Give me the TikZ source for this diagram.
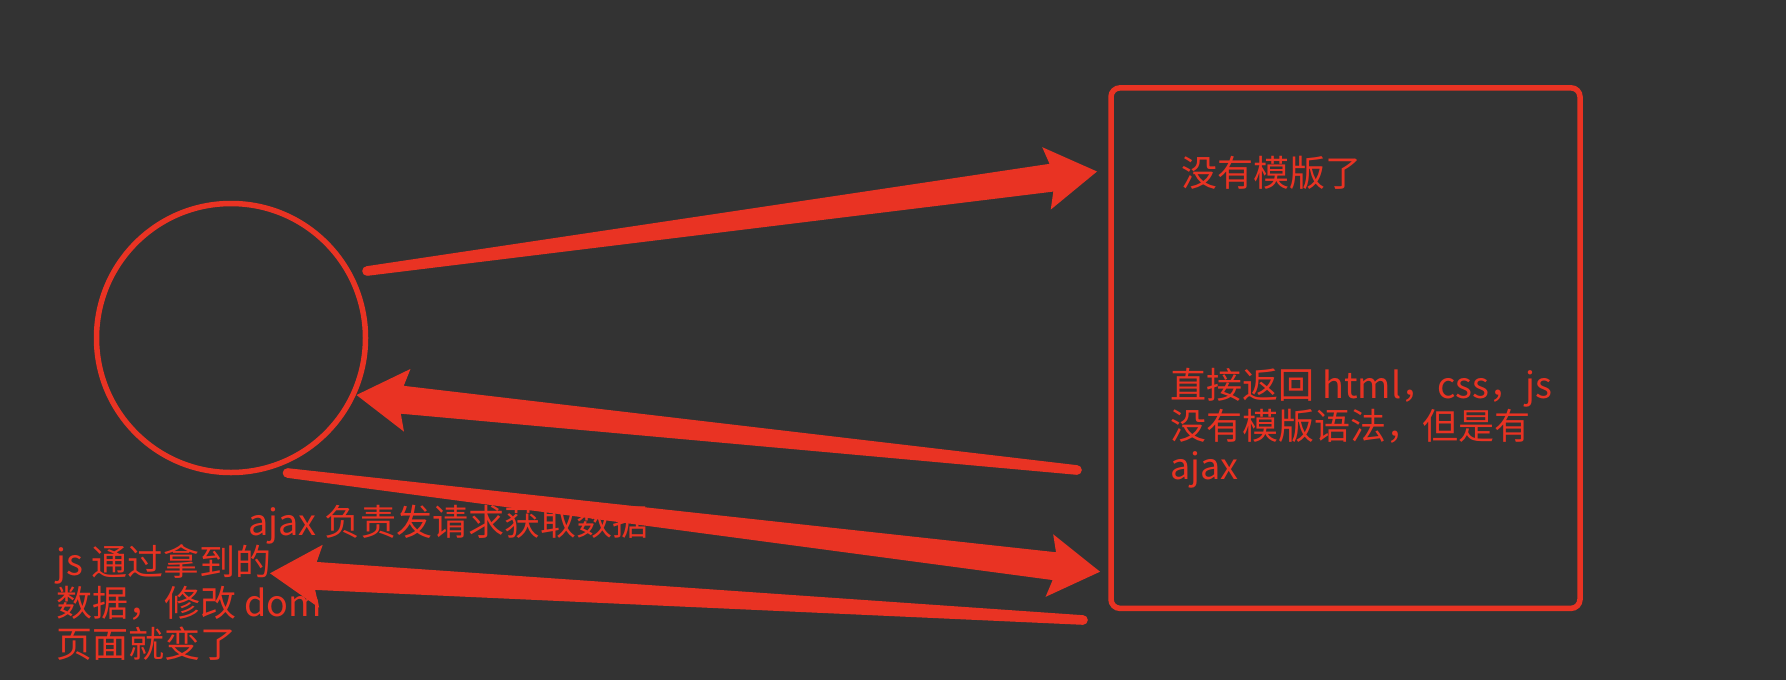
\documentclass[tikz,border=0pt]{standalone}
\usepackage{fontspec}
\setmainfont{Noto Sans CJK SC}
\usetikzlibrary{calc}
\definecolor{redc}{HTML}{E93323}
\definecolor{bgc}{HTML}{333333}
% tapered arrow from tail #1 to tip #2
\newcommand\fatarrow[2]{%
  \fill[redc] (#1) circle[radius=2.4pt];
  \fill[redc] ($(#1)!2.4pt!90:(#2)$)
    -- ($(#2)!23pt!(#1)!7pt!-90:(#1)$)
    -- ($(#2)!25.5pt!(#1)!15.75pt!-90:(#1)$)
    -- (#2)
    -- ($(#2)!25.5pt!(#1)!15.75pt!90:(#1)$)
    -- ($(#2)!23pt!(#1)!7pt!90:(#1)$)
    -- ($(#1)!2.4pt!-90:(#2)$) -- cycle;
}
\begin{document}
\begin{tikzpicture}[x=0.5pt,y=-0.5pt,
  txt/.style={text=redc, inner sep=0, anchor=base west, font=\fontsize{18pt}{20pt}\selectfont},
  outline/.style={draw=redc, line width=2.75pt, inner sep=0}]
\useasboundingbox (0,0) rectangle (1786,680);
\fill[bgc] (0,0) rectangle (1786,680);
\node[outline, circle, minimum size=134.5pt] (client) at (231,338) {};
\node[outline, rounded corners=4.5pt, minimum width=234.5pt, minimum height=260.25pt] (server) at (1345.5,348.1) {};
\node[txt] (t1) at (1181,186) {没有模版了};
\node[txt] (t2) at (1170,398) {直接返回 html，css，js};
\node[txt] (t3) at (1170,439) {没有模版语法，但是有};
\node[txt] (t4) at (1170,479) {ajax};
\node[txt] (t5) at (248,535) {ajax 负责发请求获取数据};
\node[txt] (t6) at (56,575) {js 通过拿到的};
\node[txt] (t7) at (56,616) {数据，修改 dom};
\node[txt] (t8) at (56,657) {页面就变了};
\coordinate (a1t) at (367,271);
\coordinate (a1h) at (1097,171.5);
\coordinate (a2t) at (1077,470);
\coordinate (a2h) at (356.5,395);
\coordinate (a3t) at (287.5,473);
\coordinate (a3h) at (1100,571.7);
\coordinate (a4t) at (1083,620);
\coordinate (a4h) at (270,573.3);
\fatarrow{a1t}{a1h}
\fatarrow{a2t}{a2h}
\fatarrow{a3t}{a3h}
\fatarrow{a4t}{a4h}
\end{tikzpicture}
\end{document}
